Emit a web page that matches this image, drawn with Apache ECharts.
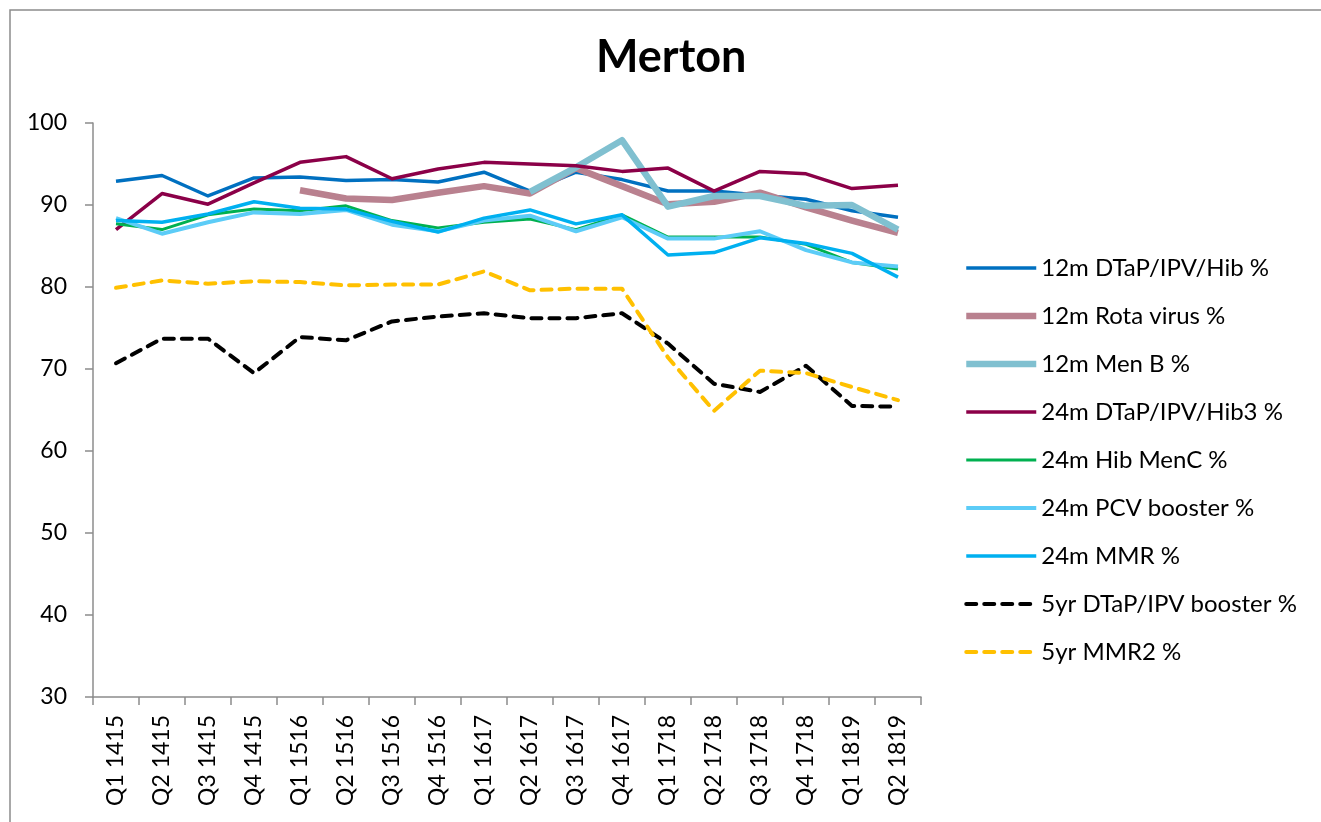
<!DOCTYPE html>
<html>
<head>
<meta charset="utf-8">
<title>Merton</title>
<script src="https://cdn.jsdelivr.net/npm/echarts@6/dist/echarts.min.js"></script>
<style>
  html, body { margin: 0; padding: 0; background: #fff; }
  #chart { width: 1321px; height: 822px; }
</style>
</head>
<body>
<div id="chart"></div>
<script>
// quarters on the x axis
const quarters = ['Q1 1415', 'Q2 1415', 'Q3 1415', 'Q4 1415', 'Q1 1516', 'Q2 1516', 'Q3 1516', 'Q4 1516',
  'Q1 1617', 'Q2 1617', 'Q3 1617', 'Q4 1617', 'Q1 1718', 'Q2 1718', 'Q3 1718', 'Q4 1718', 'Q1 1819', 'Q2 1819'];

// coverage % per series
const dtap12 = [92.9, 93.6, 91.1, 93.3, 93.4, 93.0, 93.1, 92.8, 94.0, 91.7, 94.0, 93.1, 91.7, 91.7, 91.2, 90.7, 89.3, 88.5];
const rota12 = [null, null, null, null, 91.8, 90.8, 90.6, 91.5, 92.3, 91.4, 94.5, 92.3, 90.1, 90.4, 91.5, 89.7, 88.1, 86.6];
const menB12 = [null, null, null, null, null, null, null, null, null, 91.6, 94.6, 97.9, 89.8, 91.1, 91.1, 89.9, 90.0, 87.0];
const dtap24 = [87.0, 91.4, 90.1, 92.7, 95.2, 95.9, 93.2, 94.4, 95.2, 95.0, 94.8, 94.1, 94.5, 91.7, 94.1, 93.8, 92.0, 92.4];
const hibMenC24 = [87.7, 87.0, 88.8, 89.5, 89.3, 89.9, 88.1, 87.2, 87.9, 88.3, 87.0, 88.8, 86.1, 86.1, 86.1, 85.2, 83.0, 82.2];
const pcv24 = [88.4, 86.5, 87.9, 89.1, 88.9, 89.4, 87.6, 86.8, 88.1, 88.7, 86.8, 88.5, 85.9, 85.9, 86.8, 84.5, 83.0, 82.5];
const mmr24 = [88.1, 87.9, 88.9, 90.4, 89.6, 89.5, 88.0, 86.7, 88.4, 89.4, 87.7, 88.8, 83.9, 84.2, 86.0, 85.3, 84.1, 81.2];
const dtap5 = [70.7, 73.7, 73.7, 69.5, 73.9, 73.5, 75.8, 76.4, 76.8, 76.2, 76.2, 76.8, 73.1, 68.2, 67.2, 70.4, 65.5, 65.4];
const mmr2_5 = [79.9, 80.8, 80.4, 80.7, 80.6, 80.2, 80.3, 80.3, 81.9, 79.6, 79.8, 79.8, 71.4, 64.9, 69.8, 69.5, 67.8, 66.2];

const yTicks = [30, 40, 50, 60, 70, 80, 90, 100];

const font = 'Lato, "Noto Sans", sans-serif';
const axisGrey = '#8c8c8c';

function line(name, data, color, width, dashed) {
  return {
    name: name,
    type: 'line',
    data: data,
    symbol: 'none',
    connectNulls: false,
    lineStyle: {
      color: color,
      width: width,
      type: dashed ? [10, 8] : 'solid',
      cap: dashed ? 'round' : 'butt',
      join: 'round'
    },
    itemStyle: { color: color }
  };
}

const chart = echarts.init(document.getElementById('chart'));

chart.setOption({
  animation: false,
  textStyle: { fontFamily: font },
  title: {
    text: 'Merton',
    left: 591,
    top: 30,
    textStyle: { fontFamily: font, fontSize: 45, fontWeight: 'bold', color: '#000' }
  },
  graphic: [{
    type: 'rect',
    shape: { x: 10, y: 10, width: 2000, height: 2000 },
    style: { fill: null, stroke: '#8c8c8c', lineWidth: 1.5 },
    silent: true
  }],
  legend: {
    orient: 'vertical',
    left: 963,
    top: 256,
    padding: 0,
    itemWidth: 70,
    itemHeight: 14,
    itemGap: 24,
    itemStyle: { opacity: 0 },
    lineStyle: { width: 'inherit' },
    textStyle: { fontFamily: font, fontSize: 24, color: '#000' }
  },
  grid: { left: 93, top: 123, right: 400, bottom: 125 },
  xAxis: {
    type: 'category',
    data: quarters,
    boundaryGap: true,
    axisLine: { lineStyle: { color: axisGrey, width: 1.5 } },
    axisTick: { show: true, interval: 0, length: 8, lineStyle: { color: axisGrey, width: 1.5 } },
    axisLabel: { interval: 0, rotate: 90, margin: 18, fontFamily: font, fontSize: 23, color: '#000' }
  },
  yAxis: {
    type: 'value',
    min: yTicks[0],
    max: yTicks[yTicks.length - 1],
    interval: 10,
    axisLine: { show: true, lineStyle: { color: axisGrey, width: 1.5 } },
    axisTick: { show: true, length: 8, lineStyle: { color: axisGrey, width: 1.5 } },
    splitLine: { show: false },
    axisLabel: { margin: 26, fontFamily: font, fontSize: 23, color: '#000' }
  },
  series: [
    line('12m DTaP/IPV/Hib %', dtap12, '#0070C0', 3.5),
    line('12m Rota virus %', rota12, '#B9818F', 6.5),
    line('12m Men B %', menB12, '#80C0D0', 6.5),
    line('24m DTaP/IPV/Hib3 %', dtap24, '#8B0048', 3.5),
    line('24m Hib MenC %', hibMenC24, '#00B050', 3),
    line('24m PCV booster %', pcv24, '#5CCCF7', 4),
    line('24m MMR %', mmr24, '#00B0F0', 3.5),
    line('5yr DTaP/IPV booster %', dtap5, '#000000', 4, true),
    line('5yr MMR2 %', mmr2_5, '#FFC000', 4, true)
  ]
});
</script>
</body>
</html>
